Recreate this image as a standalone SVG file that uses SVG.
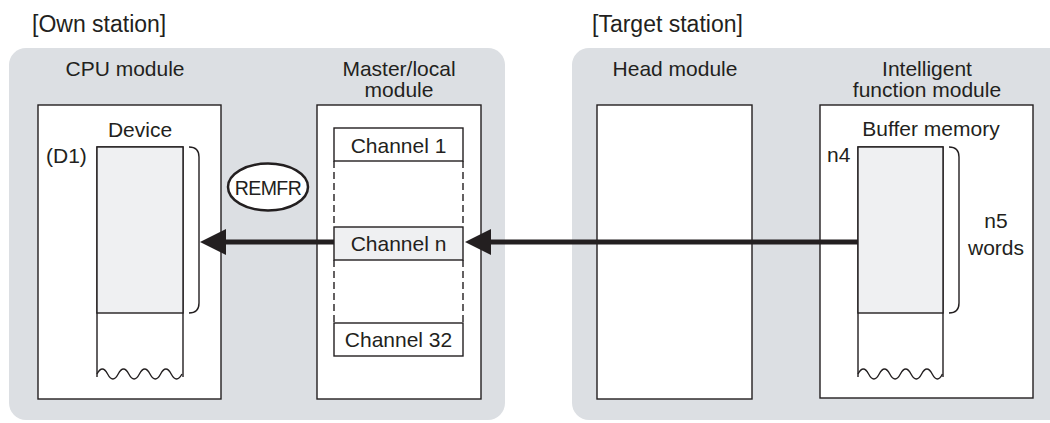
<svg xmlns="http://www.w3.org/2000/svg" width="1050" height="423" viewBox="0 0 1050 423">
<style>
text{font-family:"Liberation Sans",Arial,sans-serif;fill:#231f20;font-size:21px}
.h{font-size:23px}
.c{text-anchor:middle}
.panel{fill:#dcdfe3}
.box{fill:#fff;stroke:#231f20;stroke-width:1.4}
.mem{fill:#eff0f2;stroke:#231f20;stroke-width:1.4}
.ln{fill:none;stroke:#231f20;stroke-width:1.4}
.dash{fill:none;stroke:#231f20;stroke-width:1.4;stroke-dasharray:7,4}
.arr{stroke:#231f20;stroke-width:5;fill:none}
.head{fill:#231f20}
</style>
<g id="own-station">
<rect class="panel" x="9" y="48" width="496" height="372" rx="17"/>
<text class="h" x="32" y="32">[Own station]</text>
</g>
<g id="target-station">
<rect class="panel" x="572" y="48" width="500" height="372" rx="17"/>
<text class="h" x="592" y="32">[Target station]</text>
</g>
<g id="cpu-module">
<text class="c" x="125" y="76">CPU module</text>
<rect class="box" x="38" y="105" width="183" height="294"/>
<text class="c" x="140" y="137">Device</text>
<text x="46" y="163">(D1)</text>
<path class="box" d="M97,377 V147 H183 V377"/>
<rect class="mem" x="97" y="147" width="86" height="166"/>
<path class="ln" d="M97,374 q5.3,-10 10.6,0 t10.6,0 t10.6,0 t10.6,0 t10.6,0 t10.6,0 t10.6,0 t10.8,0"/>
<path class="ln" d="M189,147 q10,0 10,10 V303 q0,10 -10,10"/>
</g>
<g id="remfr">
<ellipse cx="268" cy="187" rx="40" ry="23.5" fill="#fff" stroke="#231f20" stroke-width="2.5"/>
<text class="c" x="268" y="194.5" style="font-size:19.5px;letter-spacing:-0.6px">REMFR</text>
</g>
<g id="master-local-module">
<text class="c" x="399" y="76">Master/local</text>
<text class="c" x="399" y="97">module</text>
<rect class="box" x="317" y="105" width="164" height="294"/>
<rect class="box" x="334" y="128" width="129" height="33"/>
<text class="c" x="398.5" y="153">Channel 1</text>
<path class="dash" d="M334,161 V227 M463,161 V227 M334,260 V323 M463,260 V323"/>
<rect class="mem" x="334" y="227" width="129" height="33"/>
<text class="c" x="398.5" y="251">Channel n</text>
<rect class="box" x="334" y="323" width="129" height="33"/>
<text class="c" x="398.5" y="347">Channel 32</text>
</g>
<g id="head-module">
<text class="c" x="675" y="76">Head module</text>
<rect class="box" x="597" y="105" width="155" height="294"/>
</g>
<g id="intelligent-function-module">
<text class="c" x="927" y="76">Intelligent</text>
<text class="c" x="927" y="97">function module</text>
<rect class="box" x="820" y="105" width="213" height="293"/>
<text class="c" x="931" y="136">Buffer memory</text>
<text x="827" y="162">n4</text>
<path class="box" d="M858,377 V147 H943 V377"/>
<rect class="mem" x="858" y="147" width="85" height="166"/>
<path class="ln" d="M858,374 q5.3,-10 10.6,0 t10.6,0 t10.6,0 t10.6,0 t10.6,0 t10.6,0 t10.6,0 t10.2,0"/>
<path class="ln" d="M949,147 q10,0 10,10 V303 q0,10 -10,10"/>
<text class="c" x="996" y="228">n5</text>
<text class="c" x="996" y="255">words</text>
</g>
<g id="connectors">
<path class="arr" d="M334,242 H222"/>
<polygon class="head" points="200,242 226,229 226,255"/>
<path class="arr" d="M858,242 H487"/>
<polygon class="head" points="465,242 491,229 491,255"/>
</g>
</svg>
